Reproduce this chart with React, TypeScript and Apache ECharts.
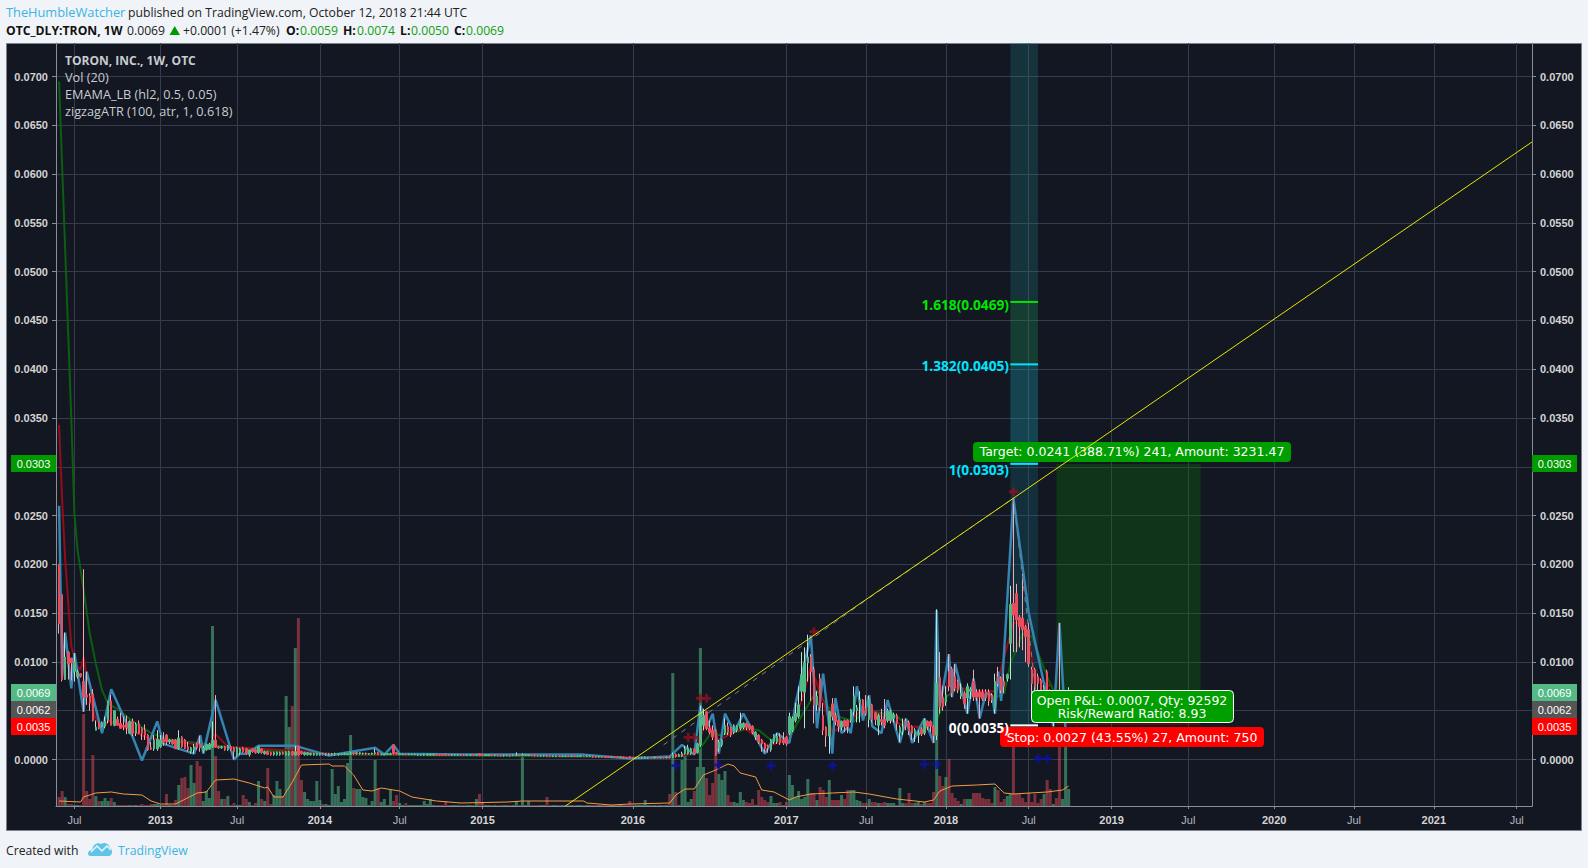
import React, { useEffect, useRef } from "react";
import * as echarts from "echarts";

// All prices below are in units of 0.0001; index 0 of each list is category index 1.
const opens = [
200,169,82,110,104,90,85,88,80,66,
65,67,30,38,34,34,40,60,35,41,
37,35,37,27,39,27,37,32,30,25,
12,11,11,13,20.5,25,18,20,20,11,
23,20,13,8,10,16,16,9,10,10.5,
13,20,13,12,13,10,13,12,4,7,
12,11,5,11,10,7,11,6,8,7,
5,5,5,7,4.6,5,8,4.6,13.8,8,
5,5,5,4.5,4.5,4.5,6,5,5,5,
5,5,5,5,5,5,7,6,6,6,
6,5.5,5.5,6,7,5,5,5,5,15,
7,5,5,6,5,5,5,4.5,4.5,4.5,
4.5,4.5,4.5,5.5,5,5,5.5,5,4.5,4.5,
4.5,5,5,4.5,4.5,5,4.5,6,5,4,
4,5,4,4.5,4.5,4,4,4.5,4,4,
4.5,4,4.5,4,4.5,4.5,4,3.5,3.5,4,
3.5,3,3,3.5,3,3,3.5,3,4,3,
3,3.5,3,3,3.5,3,2.5,3,3,2.5,
2,2.5,2.5,2,2.5,2,3,2,1.5,1.5,
2,1.5,1.5,2,1.5,2,1.5,2,1.5,2.5,
2,5,3,3,6,6,6,11,7,15,
35,49,32,30,30,11,15,27,34,32,
28,30,32,33,37,35,34,23,25,20,
16,14,10,18,18,23,20,23,27,30,
40,44,70,69,99,105,92,56,83,45,
33,24,57,45,40,33,40,40,40,49,
50,58,61,52,41,56,48,35,41,41,
40,40,42,45,27,29,39,38,34,26,
25,31,27,39,39,34,25,84,64,59,
90,93,85,80,65,68,63,70,80,69,
69,69,69,69,66,52,85,83,80,83,
119,160,170,146,145,136,133,92,92,85,
81,64,90,70,62,66,66,58,55,59,
];
const closes = [
139,82,105,98,99,100,90,85,64,64,
58,40,33,32,38,39,60,35,50,35,
32,33.5,33,39,27,36,27,27,25,10,
10.5,20,21,20,18,18,20,16,11,22,
13,11.5,10,12,13,12,12,12,15.5,15.5,
20,12.5,12,13,10,14,10,8,12,11,
8,6,9.7,8,7,13,7,8,5,5,
7,7.5,7,5.5,8,8,5,8,4.6,6,
7,7,6.5,6,6,6,5,6,6,6,
6,6,5.5,6,6,6.5,6,7,7,6.5,
6.5,6,6.5,7,5,5.5,6,6,6,6,
5.5,6,5.5,5,5.5,5.5,5.5,5,5,5.5,
5.5,5.5,5.5,4.5,4.5,4.5,4.5,4.5,5,5,
5,4.5,4.5,5,5,4.5,5.2,4,4,5,
5,4,4.5,3.5,3.5,4.5,4.5,3.5,4.5,4.5,
4,5,5,5,4,4,3.5,4,4,3,
3,3.5,3.5,3,3.5,3.5,3,3.6,3,3.5,
4,3,3.5,3.5,2.5,2.5,3,2.5,2,2,
2.5,2,2,2.5,1.5,1.5,1.5,1.5,2,2,
2.5,2.5,2,1.5,2.5,1.5,2,1.5,2,1.5,
5,3,5,6,11,12,11,6,16,49,
45,32,28,23,5,18,20,35,28,25,
35,34,37,37,33,32,28,28,18,16,
11,12,20,25,24,17,17,16,44,42,
47,56,87,99,105,90,56,65,53,30,
24,49,44,39,34,39,34,34,51,65,
53,61,47,47,62,41,41,45,39,35,
50,49,46,37,33,33,34,29,27,30,
28,26,40,34,34,25,78,54,54,66,
75,68,73,71,68,57,75,72,64,64,
64,62,63,60,61,80,78,71,75,87,
159,148,143,136,133,126,98,78,75,78,
71,74,71,62,66,62,58,62,59,69,
];
const lows = [
129,80,82,82,81,80,83,84,49,56,
50,39,30,31,33,32,37,35,34,35,
32,30,26,26,24,24,26,20,20,9,
10,9,9,12,14,15,16,15,11,10,
12,11,8,6,6,10,8,7,9,10,
12,12,11,11,9,9,9,0,3,5,
7,5,3,7,6,6,6,5,5,4,
4,4,4,5,4,4,4,4,4,5,
4,4,4,4,4,4,4,4,4,4,
4,4,4.5,4.5,4.5,4.5,5,5,5,5,
5,5,5,5,5,4.5,4.5,5,5,5,
5,4.5,4.5,4.5,4.5,4.5,4.5,4,4,4,
4,4,4,4,4,4,4,4,4,4,
4,4,4,4,4,4,4,3.5,3.5,3.5,
3.5,3.5,3.5,3.5,3,3,3.5,3,3.5,3.5,
3.5,3.5,3.5,3.5,3.5,3,3,3,3,2.5,
2.5,2.5,2.5,2.5,2.5,2.5,2.5,2.5,2.5,2.5,
2.5,2.5,2.5,2.5,2,2,2,2,1.5,1.5,
1.5,1.5,1.5,1.5,1,1,1,1,1,1,
1,1,1,1,1,1,1,1,1,1,
1.5,2,2.5,2.5,5,5,5,5,6,13,
30,30,26,20,4,8,13,25,25,23,
26,28,30,31,30,30,26,20,16,8,
7,7,8,16,16,15,15,14,25,28,
38,42,60,32,80,60,37,50,50,25,
13,6,40,35,28,30,28,27,38,45,
38,38,46,45,33,38,35,25,35,32,
38,37,38,30,18,25,30,25,20,18,
17,24,25,30,28,17,20,47,50,55,
70,64,70,68,62,52,47,62,60,60,
42,60,60,55,58,47,75,68,68,80,
82,110,110,115,112,100,95,65,68,70,
62,58,60,50,34,55,50,52,48,50,
];
const highs = [
200,169,130,111,104,109,92,88,195,90,
68,72,40,38,39,44,60,66,50,44,
48,44,45,40,42,38,40,33,36,26,
18,25,30,25,28,26,21,21,21,30,
24,21,18,13,16,17,24,14,16,17,
39,66,14,14,14,15,14,13,13,12,
13,12,10,11,11,14,11,9,9,8,
8,8,8,8,8.5,9,9,14,14,9,
8,7.5,7,7,6.5,6.5,6.5,6.5,6.5,6.5,
7,6.5,6,7,6.5,8,7.5,7.5,7.5,7,
7,6.5,7,11,8,6,6.5,6.5,7,15,
7.5,6.5,6,6.5,6,6,6,5.5,5.5,6,
6,6,6,6,5.5,5.5,6,5.5,5.5,5.5,
5.5,5.5,5.5,5.5,5.5,5.5,5.5,6.5,5.5,5.5,
5.5,5.5,5,5,5,5,5,5,5,7.3,
5,6.3,5.5,5.5,5,5,4.5,4.5,4.5,4.5,
4,4,4,4,4,4,4,4,4.5,4,
4.5,4,4,4,4,3.5,3.5,3.5,3.2,3,
3,3,3,3,3,2.5,3.2,2.5,2.5,2.5,
3,3,2.5,2.5,3,2.5,2.5,2.5,3,3,
7,6,6,8,14,15,12,11,17,55,
52,49,40,35,31,20,21,42,38,33,
36,35,48,38,38,36,35,29,26,21,
17,15,21,26,27,27,28,24,48,44,
58,75,110,115,128,108,95,70,88,58,
34,50,63,48,41,40,41,41,52,75,
56,70,62,66,65,57,49,47,52,62,
52,51,48,47,35,42,42,40,35,32,
30,33,42,40,40,35,154,110,75,75,
108,95,98,82,78,70,78,74,92,72,
72,72,72,72,68,88,95,85,88,88,
178,268,180,148,190,138,140,95,94,88,
83,76,92,72,70,70,140,70,68,74,
];
// Volume in the hidden overlay scale.
const volumes = [
9,15,9,2,2,1,1,1,92,15,
7,51,10,5,5,8,5,8,4,1,
1,1,1,1,1,1,1,2,1,1,
2,2,2,1,1,12,1,1,6,21,
28,29,18,41,23,45,40,5,15,8,
180,50,15,7,7,10,1,3,1,1,
11,7,4,1,3,25,7,5,38,2,
11,25,17,10,110,79,100,158,188,26,
14,7,5,5,25,6,2,2,1,37,
12,20,4,7,43,71,18,17,17,9,
8,1,5,46,18,4,7,1,16,5,
11,3,1,3,1,1,1,1,1,5,
2,7,1,1,1,1,5,1,1,1,
1,1,1,1,1,1,7,12,4,1,
1,1,1,1,1,1,1,1,1,5,
1,50,1,5,1,1,1,1,1,9,
1,1,1,1,1,1,1,1,1,1,
1,1,1,1,1,1,1,1,1,1,
1,1,1,1,1,1,5,1,1,1,
1,6,1,1,1,1,1,1,1,12,
133,14,1,46,51,4,7,15,39,158,
39,28,11,23,74,32,26,35,11,4,
4,3,14,6,4,3,7,1,16,9,
6,4,10,3,3,4,1,4,31,21,
9,15,7,9,27,13,13,6,19,16,
9,26,6,6,6,11,7,16,16,16,
6,5,3,3,7,4,4,3,3,4,
3,3,3,1,18,3,3,13,3,3,
4,2,4,3,3,14,159,30,20,29,
47,13,8,5,2,7,7,7,13,13,
13,8,7,7,3,19,16,4,7,10,
12,78,12,12,8,4,13,4,12,3,
7,12,26,17,2,8,60,7,60,17,
];

const zigzagIdx = [1,2,3,5,6,9,10,15,18,25,28,33,35,45,47,48,52,58,60,62,66,78,89,104,107,110,112,132,172,187,200,204,208,210,212,214,216,218,221,224,231,235,239,241,244,246,248,250,253,254,256,258,259,261,263,265,266,269,271,275,277,279,283,286,287,288,291,292,293,297,299,301,303,305,306,307,308,312,317,325,327,329];
const zigzagVal = [260,85,130,73,109,49,90,27,72,23,-1,39,16,6,25,6,61,0,6,6,14,14,4,12,5,15,6,5,5,1,3,15,5,56,32,47,6,47,28,47,6,27,17,57,100,127,32,88,6,63,27,33,27,75,40,66,34,27,61,17,42,17,42,17,153,54,108,64,98,47,83,42,68,66,47,90,60,268,150,34,140,30];
const fastIdx = [1,2,3,4,5,6,7,8,9,10,11,12,13,14,15,16,17,30,40,50,52,56,66,78,90,130,170,190,200,208,212,216,224,232,238,243,246,250,253,258,264,270,278,286,288,292,300,306,312,316,319,324];
const fastVal = [343,266,205,160,116,105,95,92,105,85,78,50,42,37,34,35,40,22,18,14,26,13,11,9,6,5,4,2,3,6,40,20,33,14,20,60,95,60,28,37,55,42,33,35,75,75,70,70,140,140,85,75];
const slowIdx = [1,5,6,7,9,11,13,15,17,20,25,31,36,47,63,90,130,170,190,200,208,211,214,216,221,226,229,233,239,241,244,248,251,255,260,264,274,278,283,287,290,294,301,306,309,311,315,318,323,325];
const slowVal = [695,348,252,215,174,129,98,71,57,52,39,27,21,16.5,10,5,4,3,2,3,5.6,16,30,25,28,32,30,20,20,34,50,71,56,44,39,51,44,34,32,40,64,73,68,63,68,98,129,126,85,71];
const volMaIdx = [1,8,9,13,18,22,28,31,34,39,46,49,52,58,63,68,69,71,74,77,80,89,90,94,97,100,103,106,112,116,124,132,147,152,172,173,181,187,200,202,205,208,211,215,219,221,223,228,230,234,239,241,246,253,260,265,274,283,286,288,292,300,306,309,312,323,328,330];
const volMaVal = [5,4,9,13,14,12,11,5,2,2,13,14,26,27,23,18,19,9,9,24,41,42,40,40,31,16,15,18,15,9,5,3,4,5,5,3,1,2,3,11,17,17,31,36,42,40,33,29,16,14,6,9,12,13,14,12,7,4,6,15,20,21,22,13,12,14,16,20];

const trendIdx = [166, 481];
const trendVal = [-47.7, 633];
const dashIdx = [198, 264, 312, 320];
const dashVal = [15, 163.5, 268, 50];

const upCrossIdx = [210, 212, 206, 208, 247, 312];
const upCrossVal = [62.7, 62.7, 22.7, 22.7, 131, 274.5];
const downCrossIdx = [202, 216, 233, 253, 283, 287, 320, 323];
const downCrossVal = [-6.3, -5.6, -6.3, -6.3, -5, -5, 1, 1];

const fibLevels = [35, 303, 405, 469];
const fibLabels = ["0(0.0035)", "1(0.0303)", "1.382(0.0405)", "1.618(0.0469)"];
const fibLabelY = [727, 469, 365, 304];
const fibColors = ["#ffffff", "#00e5ff", "#00e5ff", "#00e600"];
const fibStart = 311;
const fibEnd = 320;
const entryPrice = 62;
const targetPrice = 303;
const stopPrice = 35;
const boxStart = 326;
const boxEnd = 373;

const yTickLabels = ["0.0000","0.0050","0.0100","0.0150","0.0200","0.0250","0.0300","0.0350","0.0400","0.0450","0.0500","0.0550","0.0600","0.0650","0.0700"];
// The price tags sit where these two axis labels would be.
const yHiddenLabels = ["0.0050", "0.0300"];
const xTickIdx = [6,34,59,86,112,139,188,238,264,290,317,344,369,397,423,449,476];
const xTickLabels = ["Jul","2013","Jul","2014","Jul","2015","2016","2017","Jul","2018","Jul","2019","Jul","2020","Jul","2021","Jul"];
const weekCount = 482;
const yMin = -0.004766;
const yMax = 0.07344;

const P = 1e-4;
const pairs = (xs: number[], ys: number[]) => xs.map((x, i) => [x, ys[i] * P]);
const padded = <T,>(list: T[], blank: T) => [blank, ...list];
const categories = Array.from({ length: weekCount }, (_, i) => "W" + i);
const tickSet = new Set(xTickIdx);
const UP = "#53b987";
const DOWN = "#eb4d5c";
const FONT = '"Open Sans"';
const MONO = '"DejaVu Sans"';

echarts.graphic.registerShape(
  "tvlogo",
  echarts.graphic.extendPath(
    "M0 12C0 9 2 8 4 8C5 3 9 0 13 2C16 0 21 1 22 6C25 7 25 13 21 14L3 14C1 14 0 13 0 12Z",
    {}
  )
);

function App() {
  const ref = useRef<HTMLDivElement>(null);
  useEffect(() => {
    document.body.style.margin = "0";
    const chart = echarts.init(ref.current!, undefined, { renderer: "svg" });
    const T = (text: string, x: number, y: number, fill: string, font: string, align = "left") => ({
      type: "text", x, y, z: 100, silent: true,
      style: { text, fill, font, textAlign: align, textVerticalAlign: "middle" },
    });
    const R = (x: number, y: number, width: number, height: number, fill: string, r = 0, stroke?: string) => ({
      type: "rect", z: 99, silent: true,
      shape: { x, y, width, height, r },
      style: { fill, stroke, lineWidth: stroke ? 1 : 0 },
    });
    const hdr = `12.2px ${FONT}`;
    const hdrB = `bold 12.2px ${FONT}`;
    const lbl = `12.5px ${MONO}`;
    const priceFont = `11px "Liberation Sans"`;
    const priceTag = (text: string, y: number, fill: string) => [
      R(11, y, 45, 17, fill), T(text, 33.5, y + 8.5, "#ffffff", priceFont, "center"),
      R(1532, y, 45, 17, fill), T(text, 1554.5, y + 8.5, "#ffffff", priceFont, "center"),
    ];
    const graphicEls: any[] = [
      { type: "rect", z: -10, silent: true, shape: { x: 6.5, y: 43.5, width: 1575, height: 787 },
        style: { fill: "#131722", stroke: "#7d828a", lineWidth: 1 } },
      T("TheHumbleWatcher", 6, 12, "#3bb3e4", `12.8px ${FONT}`),
      T("published on TradingView.com, October 12, 2018 21:44 UTC", 128, 12, "#222222", hdr),
      T("OTC_DLY:TRON, 1W", 6, 30, "#111111", hdrB),
      T("0.0069", 127, 30, "#222222", hdr),
      { type: "polygon", z: 100, silent: true, shape: { points: [[169.5, 35], [180, 35], [174.7, 26]] }, style: { fill: "#009900" } },
      T("+0.0001 (+1.47%)", 183, 30, "#222222", hdr),
      T("O:", 286, 30, "#111111", hdrB), T("0.0059", 300, 30, "#11a011", hdr),
      T("H:", 343, 30, "#111111", hdrB), T("0.0074", 357, 30, "#11a011", hdr),
      T("L:", 400, 30, "#111111", hdrB), T("0.0050", 411, 30, "#11a011", hdr),
      T("C:", 454, 30, "#111111", hdrB), T("0.0069", 466, 30, "#11a011", hdr),
      T("TORON, INC., 1W, OTC", 65, 60, "#c8ccd0", `bold 12px ${FONT}`),
      T("Vol (20)", 65, 77, "#c8ccd0", `12.7px ${FONT}`),
      T("EMAMA_LB (hl2, 0.5, 0.05)", 65, 94, "#c8ccd0", `12.7px ${FONT}`),
      T("zigzagATR (100, atr, 1, 0.618)", 65, 111, "#c8ccd0", `12.7px ${FONT}`),
      T("Created with", 6, 850, "#222222", hdr),
      { type: "tvlogo", x: 88, y: 842, z: 100, silent: true, style: { fill: "#5ec4ea" } },
      { type: "polyline", z: 101, silent: true, shape: { points: [[91, 852], [97, 846], [102, 851], [107, 846], [111, 850]] }, style: { stroke: "#f0f3f7", lineWidth: 1.5, fill: "none" } },
      T("TradingView", 118, 850, "#3bb3e4", hdr),
      ...fibLabels.map((t, k) => T(t, 1009, fibLabelY[k], fibColors[k], `bold 13.7px ${FONT}`, "right")),
      ...priceTag("0.0303", 455, "#009900"),
      ...priceTag("0.0069", 684, UP),
      ...priceTag("0.0062", 701, "#555555"),
      ...priceTag("0.0035", 718, "#ff0000"),
      R(973, 442, 318, 20, "#009f00", 4),
      T("Target: 0.0241 (388.71%) 241, Amount: 3231.47", 1132, 451, "#ffffff", lbl, "center"),
      R(1031.5, 690.5, 202, 32, "#009f00", 4, "#ffffff"),
      T("Open P&L: 0.0007, Qty: 92592", 1132, 700, "#ffffff", lbl, "center"),
      T("Risk/Reward Ratio: 8.93", 1132, 713, "#ffffff", lbl, "center"),
      R(1000, 727, 264, 20, "#ff0000", 4),
      T("Stop: 0.0027 (43.55%) 27, Amount: 750", 1132, 737, "#ffffff", lbl, "center"),
    ];

    const band = (from: number, to: number, color: string) => [
      { xAxis: fibStart, yAxis: from, itemStyle: { color } },
      { xAxis: fibEnd, yAxis: to },
    ];
    const candleData = padded(
      opens.map((o, i) => [o * P, closes[i] * P, lows[i] * P, highs[i] * P]),
      [NaN, NaN, NaN, NaN]
    );
    const bodyData = padded(
      opens.map((o, i) => {
        const a = o * P, b = closes[i] * P;
        return [a, b, Math.min(a, b), Math.max(a, b)];
      }),
      [NaN, NaN, NaN, NaN]
    );
    const lineSeries = (name: string, data: number[][], color: string, width: number, z: number, extra: any = {}) => ({
      name, type: "line", data, symbol: "none", z, animation: false, silent: true,
      lineStyle: { color, width }, ...extra,
    });
    const axisLine = { show: true, lineStyle: { color: "#8a8e96", width: 1 } };
    const yLabel = {
      color: "#d4d4d4", fontFamily: "Liberation Sans", fontSize: 11, fontWeight: "bold" as const,
      customValues: yTickLabels.filter((t) => !yHiddenLabels.includes(t)).map(Number),
      formatter: (v: number) => v.toFixed(4),
    };
    const yTick = { show: true, length: 4, lineStyle: { color: "#8a8e96" }, customValues: yTickLabels.map(Number) };

    chart.setOption({
      animation: false,
      backgroundColor: "#f0f3f7",
      graphic: { elements: graphicEls },
      grid: { left: 56, right: 56, top: 43, bottom: 62, containLabel: false },
      tooltip: { show: false },
      xAxis: {
        type: "category", data: categories, boundaryGap: false,
        axisLine: { ...axisLine, onZero: false },
        axisTick: { show: true, length: 3, lineStyle: { color: "#8a8e96" }, interval: (i: number) => tickSet.has(i) },
        splitLine: { show: true, lineStyle: { color: "#363c4e", width: 1 }, interval: (i: number) => tickSet.has(i) },
        axisLabel: {
          interval: (i: number) => tickSet.has(i), margin: 8,
          formatter: (_: string, i: number) => {
            const t = xTickLabels[xTickIdx.indexOf(i)];
            return t === "Jul" ? `{m|${t}}` : `{y|${t}}`;
          },
          rich: {
            m: { color: "#b4b8be", fontFamily: "Liberation Sans", fontSize: 11 },
            y: { color: "#d4d4d4", fontFamily: "Liberation Sans", fontSize: 11, fontWeight: "bold" },
          },
        },
      },
      yAxis: [
        { type: "value", min: yMin, max: yMax, position: "left", axisLine, axisTick: yTick, axisLabel: yLabel,
          splitLine: { show: true, lineStyle: { color: "#363c4e", width: 1 } } },
        { type: "value", min: yMin, max: yMax, position: "right", axisLine, axisTick: yTick, axisLabel: yLabel,
          splitLine: { show: false } },
        { type: "value", min: 0, max: 763, show: false, splitLine: { show: false } },
      ],
      series: [
        {
          name: "zones", type: "line", data: [[fibStart, fibLevels[0] * P], [fibEnd, fibLevels[0] * P]], symbol: "none",
          lineStyle: { opacity: 0 }, z: 1, silent: true,
          markArea: {
            silent: true,
            data: [
              band(fibLevels[0] * P, fibLevels[1] * P, "rgba(20,110,130,0.28)"),
              band(fibLevels[1] * P, fibLevels[2] * P, "rgba(30,170,190,0.3)"),
              band(fibLevels[2] * P, fibLevels[3] * P, "rgba(30,150,90,0.3)"),
              band(fibLevels[3] * P, yMax, "rgba(30,130,130,0.25)"),
              [
                { xAxis: boxStart, yAxis: entryPrice * P, itemStyle: { color: "rgba(10,120,10,0.3)" } },
                { xAxis: boxEnd, yAxis: targetPrice * P },
              ],
              [
                { xAxis: boxStart, yAxis: stopPrice * P, itemStyle: { color: "rgba(190,0,0,0.4)" } },
                { xAxis: boxEnd, yAxis: entryPrice * P },
              ],
            ],
          },
        },
        {
          name: "Vol", type: "bar", yAxisIndex: 2, barWidth: 3, z: 2, silent: true,
          data: padded(volumes, 0).map((v, i) => ({
            value: v,
            itemStyle: {
              color: i > 0 && closes[i - 1] >= opens[i - 1] ? "rgba(83,185,135,0.55)" : "rgba(235,77,92,0.48)",
            },
          })),
        },
        {
          name: "Vol MA", type: "line", yAxisIndex: 2, symbol: "none", z: 3, silent: true,
          data: volMaIdx.map((x, i) => [x, volMaVal[i]]),
          lineStyle: { color: "#f59b42", width: 1 },
        },
        lineSeries("EMAMA slow", pairs(slowIdx, slowVal), "#0b5f10", 2, 4),
        lineSeries("EMAMA fast", pairs(fastIdx, fastVal), "#930d18", 2, 4),
        lineSeries("zigzagATR", pairs(zigzagIdx, zigzagVal), "#3584b2", 2.5, 5),
        {
          name: "wicks", type: "candlestick", data: candleData, barWidth: 1, z: 6, silent: true,
          itemStyle: { color: "#bfe5d3", color0: "#f7a8b2", borderColor: "#bfe5d3", borderColor0: "#f7a8b2", borderWidth: 1 },
        },
        {
          name: "TRON", type: "candlestick", data: bodyData, barWidth: 2, z: 7, silent: true,
          itemStyle: { color: UP, color0: DOWN, borderColor: UP, borderColor0: DOWN, borderWidth: 1 },
        },
        lineSeries("guide", pairs(dashIdx, dashVal), "#7c7f88", 1, 8, { lineStyle: { color: "#7c7f88", width: 1, type: [5, 6] } }),
        lineSeries("trend", pairs(trendIdx, trendVal), "#e6e600", 1, 150),
        ...fibLevels.map((lv, k) => ({
          name: "fib" + k, type: "line", symbol: "none", z: 9, silent: true,
          lineStyle: { color: fibColors[k], width: 2 },
          data: [[fibStart, lv * P], [fibEnd, lv * P]],
        })),
        {
          name: "peaks", type: "scatter", data: pairs(upCrossIdx, upCrossVal), z: 9, silent: true,
          symbol: "path://M3.5 0h3v3.5h3.5v3H6.5V10h-3V6.5H0v-3h3.5z", symbolSize: 9, itemStyle: { color: "#8f1220" },
        },
        {
          name: "troughs", type: "scatter", data: pairs(downCrossIdx, downCrossVal), z: 9, silent: true,
          symbol: "path://M3.5 0h3v3.5h3.5v3H6.5V10h-3V6.5H0v-3h3.5z", symbolSize: 9, itemStyle: { color: "#0a12a6" },
        },
      ],
    });
    return () => chart.dispose();
  }, []);
  return <div ref={ref} style={{ position: "absolute", left: 0, top: 0, width: 1588, height: 868 }} />;
}

export default App;
